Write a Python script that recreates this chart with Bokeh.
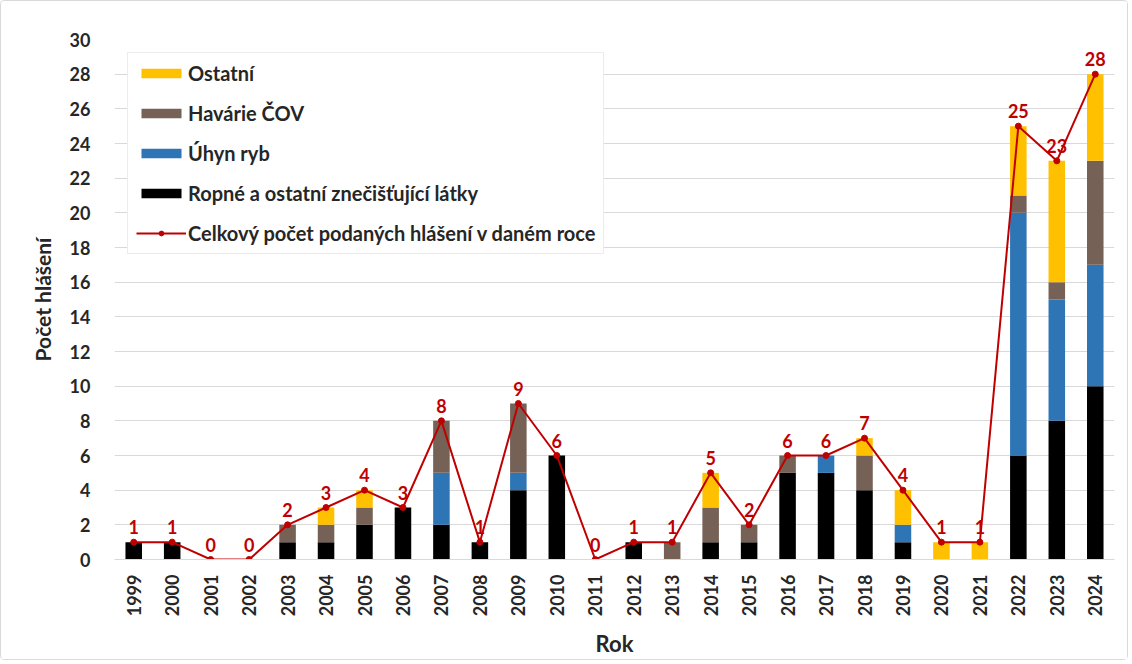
from bokeh.plotting import figure
from bokeh.models import (ColumnDataSource, Range1d, FactorRange, SingleIntervalTicker,
                          Legend, LegendItem)
from bokeh.core.properties import value
from bokeh.embed import file_html
from bokeh.resources import INLINE
import math

years = ["1999", "2000", "2001", "2002", "2003", "2004", "2005", "2006", "2007", "2008",
         "2009", "2010", "2011", "2012", "2013", "2014", "2015", "2016", "2017", "2018",
         "2019", "2020", "2021", "2022", "2023", "2024"]
ropne   = [1, 1, 0, 0, 1, 1, 2, 3, 2, 1, 4, 6, 0, 1, 0, 1, 1, 5, 5, 4, 1, 0, 0, 6, 8, 10]
uhyn    = [0, 0, 0, 0, 0, 0, 0, 0, 3, 0, 1, 0, 0, 0, 0, 0, 0, 0, 1, 0, 1, 0, 0, 14, 7, 7]
havarie = [0, 0, 0, 0, 1, 1, 1, 0, 3, 0, 4, 0, 0, 0, 1, 2, 1, 1, 0, 2, 0, 0, 0, 1, 1, 6]
ostatni = [0, 0, 0, 0, 0, 1, 1, 0, 0, 0, 0, 0, 0, 0, 0, 2, 0, 0, 0, 1, 2, 1, 1, 4, 7, 5]
celkem  = [1, 1, 0, 0, 2, 3, 4, 3, 8, 1, 9, 6, 0, 1, 1, 5, 2, 6, 6, 7, 4, 1, 1, 25, 23, 28]

series_names = ["Ropné a ostatní znečišťující látky", "Úhyn ryb", "Havárie ČOV", "Ostatní"]
line_name = "Celkový počet podaných hlášení v daném roce"
colors = ["#000000", "#2E75B6", "#766157", "#FFC000"]
red = "#C00000"
font = "Lato"
text_col = "#262626"

src = ColumnDataSource(dict(year=years, ropne=ropne, uhyn=uhyn, havarie=havarie,
                            ostatni=ostatni, celkem=celkem,
                            lbl=[str(v) for v in celkem]))

p = figure(width=1128, height=660, x_range=FactorRange(*years), y_range=Range1d(0, 30),
           output_backend="svg", toolbar_location=None,
           min_border_left=113, min_border_right=15, min_border_top=38, min_border_bottom=102)
p.styles = {"border": "1px solid #d9d9d9", "border-radius": "4px", "box-sizing": "border-box"}
p.outline_line_color = None
p.background_fill_color = "white"
p.border_fill_color = "white"

bars = p.vbar_stack(["ropne", "uhyn", "havarie", "ostatni"], x="year", width=0.43,
                    color=colors, line_color=None, source=src)
line = p.line(x="year", y="celkem", source=src, line_color=red, line_width=2)
dots = p.scatter(x="year", y="celkem", source=src, size=6, fill_color=red, line_color=red)
p.text(x="year", y="celkem", text="lbl", source=src, text_color=red,
       text_font=value(font), text_font_style="bold", text_font_size="18px",
       text_align="center", text_baseline="bottom", y_offset=-8)

# axes
p.yaxis.ticker = SingleIntervalTicker(interval=2)
p.yaxis.axis_line_color = None
p.yaxis.major_tick_line_color = None
p.yaxis.minor_tick_line_color = None
p.yaxis.major_label_standoff = 18
p.yaxis.major_label_text_font = font
p.yaxis.major_label_text_font_style = "bold"
p.yaxis.major_label_text_font_size = "18px"
p.yaxis.major_label_text_color = text_col
p.yaxis.axis_label = "Počet hlášení"
p.yaxis.axis_label_text_font = font
p.yaxis.axis_label_text_font_style = "bold"
p.yaxis.axis_label_text_font_size = "21px"
p.yaxis.axis_label_text_color = text_col
p.yaxis.axis_label_standoff = 12

p.xaxis.axis_line_color = "#d9d9d9"
p.xaxis.major_tick_line_color = None
p.xaxis.minor_tick_line_color = None
p.xaxis.major_label_orientation = math.pi / 2
p.xaxis.major_label_standoff = 9
p.xaxis.major_label_text_font = font
p.xaxis.major_label_text_font_style = "bold"
p.xaxis.major_label_text_font_size = "18px"
p.xaxis.major_label_text_color = text_col
p.xaxis.axis_label = "Rok"
p.xaxis.axis_label_text_font = font
p.xaxis.axis_label_text_font_style = "bold"
p.xaxis.axis_label_text_font_size = "22px"
p.xaxis.axis_label_text_color = text_col
p.xaxis.axis_label_standoff = 11

p.xgrid.grid_line_color = None
p.ygrid.grid_line_color = "#d9d9d9"
p.ygrid.grid_line_width = 1

items = [
    LegendItem(label=series_names[3], renderers=[bars[3]]),
    LegendItem(label=series_names[2], renderers=[bars[2]]),
    LegendItem(label=series_names[1], renderers=[bars[1]]),
    LegendItem(label=series_names[0], renderers=[bars[0]]),
    LegendItem(label=line_name, renderers=[line, dots]),
]
legend = Legend(items=items, location="top_left", margin=13, padding=8, spacing=16,
                label_height=24, glyph_height=12, glyph_width=50, label_standoff=2,
                label_text_font=font, label_text_font_style="bold",
                label_text_font_size="20px", label_text_color=text_col,
                border_line_color="#d9d9d9", border_line_width=1,
                background_fill_color="white", background_fill_alpha=1)
p.add_layout(legend, "center")

open("out.html", "w").write(file_html(p, INLINE))
